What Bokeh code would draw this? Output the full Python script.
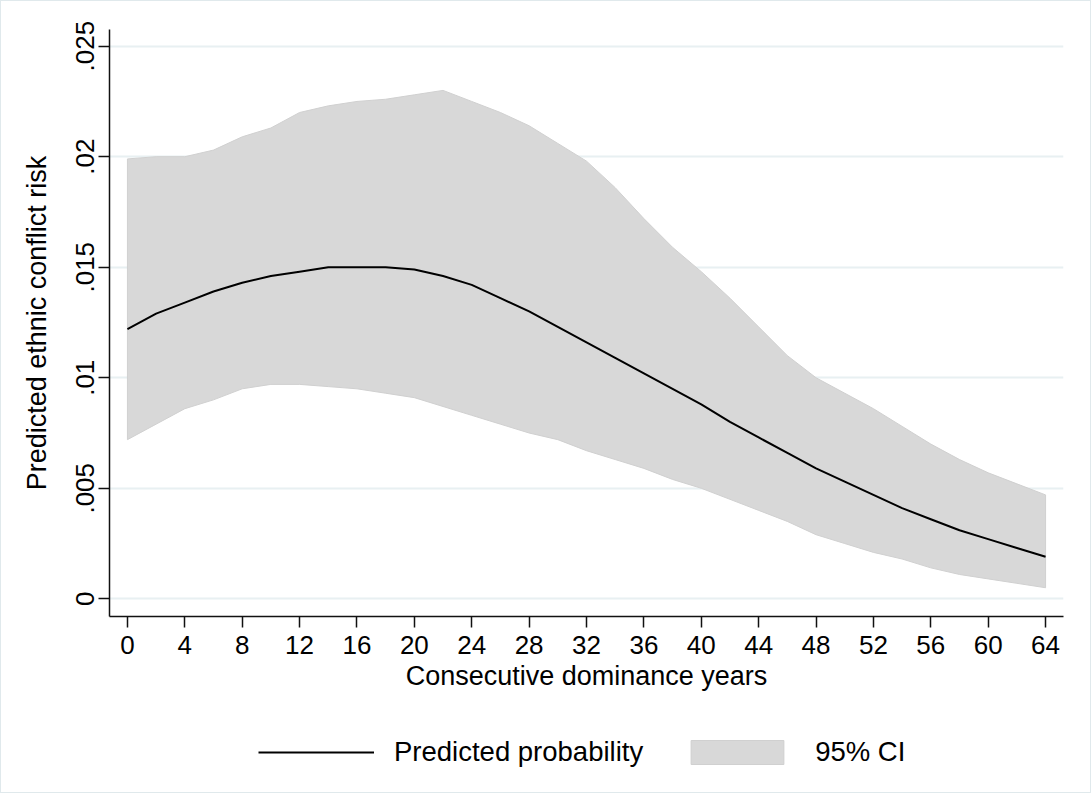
from bokeh.plotting import figure
from bokeh.models import Range1d, FixedTicker, Legend, LegendItem
from bokeh.layouts import column
from bokeh.embed import file_html
from bokeh.resources import INLINE

# ---- data ----
years = [0, 2, 4, 6, 8, 10, 12, 14, 16, 18, 20, 22, 24, 26, 28, 30, 32,
         34, 36, 38, 40, 42, 44, 46, 48, 50, 52, 54, 56, 58, 60, 62, 64]
predicted = [.0122, .0129, .0134, .0139, .0143, .0146, .0148, .0150, .0150, .0150,
             .0149, .0146, .0142, .0136, .0130, .0123, .0116, .0109, .0102, .0095,
             .0088, .0080, .0073, .0066, .0059, .0053, .0047, .0041, .0036, .0031,
             .0027, .0023, .0019]
ci_upper = [.0199, .0200, .0200, .0203, .0209, .0213, .0220, .0223, .0225, .0226,
            .0228, .0230, .0225, .0220, .0214, .0206, .0198, .0186, .0172, .0159,
            .0148, .0136, .0123, .0110, .0100, .0093, .0086, .0078, .0070, .0063,
            .0057, .0052, .0047]
ci_lower = [.0072, .0079, .0086, .0090, .0095, .0097, .0097, .0096, .0095, .0093,
            .0091, .0087, .0083, .0079, .0075, .0072, .0067, .0063, .0059, .0054,
            .0050, .0045, .0040, .0035, .0029, .0025, .0021, .0018, .0014, .0011,
            .0009, .0007, .0005]
x_ticks = list(range(0, 65, 4))
y_ticks = [0, .005, .01, .015, .02, .025]
y_tick_labels = ["0", ".005", ".01", ".015", ".02", ".025"]
x_title = "Consecutive dominance years"
y_title = "Predicted ethnic conflict risk"
legend_labels = ["Predicted probability", "95% CI"]

FONT = "Liberation Sans"
BAND_FILL = "#d8d8d8"
BAND_LINE = "#d0d0d0"

band_x = years + years[::-1]
band_y = ci_upper + ci_lower[::-1]

INSET = 4  # outer light frame: 1px border + 3px padding

p = figure(width=1091 - 2 * INSET, height=713 - INSET, output_backend="svg",
           toolbar_location=None,
           x_range=Range1d(-1.25, 65.25), y_range=Range1d(-0.000801, 0.025755),
           min_border_left=109 - INSET, min_border_right=28 - INSET,
           min_border_top=29 - INSET, min_border_bottom=97)
p.outline_line_color = None
p.background_fill_color = "white"
p.border_fill_color = "white"

p.patch(band_x, band_y, fill_color=BAND_FILL, line_color=BAND_LINE, line_width=1)
p.line(years, predicted, line_color="black", line_width=2)

# axes
p.xaxis.ticker = FixedTicker(ticks=x_ticks)
p.yaxis.ticker = FixedTicker(ticks=y_ticks)
p.yaxis.major_label_overrides = {t: l for t, l in zip(y_ticks, y_tick_labels)}
p.yaxis.major_label_orientation = "vertical"
for ax in (p.xaxis[0], p.yaxis[0]):
    ax.axis_line_color = "#111111"
    ax.axis_line_width = 1.5
    ax.major_tick_line_color = "#111111"
    ax.major_tick_line_width = 1.5
    ax.major_tick_out = 11
    ax.major_tick_in = 0
    ax.minor_tick_out = 0
    ax.minor_tick_in = 0
    ax.major_label_text_font = FONT
    ax.major_label_text_font_size = "26px"
    ax.major_label_text_color = "black"
    ax.axis_label_text_font = FONT
    ax.axis_label_text_font_size = "27px"
    ax.axis_label_text_font_style = "normal"
    ax.axis_label_text_color = "black"
p.xaxis.axis_label = x_title
p.yaxis.axis_label = y_title
p.xaxis.major_label_standoff = 8
p.xaxis.axis_label_standoff = 4
p.yaxis.major_label_standoff = 4
p.yaxis.axis_label_standoff = 22

p.xgrid.grid_line_color = None
p.ygrid.ticker = FixedTicker(ticks=y_ticks)
p.ygrid.grid_line_color = "#e8f0f2"
p.ygrid.grid_line_width = 2

# legend strip below the plot: same series, ranges chosen so they stay out of view
lg = figure(width=1091 - 2 * INSET, height=80 - INSET, output_backend="svg",
            toolbar_location=None,
            x_range=Range1d(1000, 1001), y_range=Range1d(1000, 1001),
            min_border_left=0, min_border_right=0, min_border_top=0, min_border_bottom=0)
lg.axis.visible = False
lg.grid.visible = False
lg.outline_line_color = None
lg.border_fill_color = "white"
lg.background_fill_color = "white"
leg_band = lg.patch(band_x, band_y, fill_color=BAND_FILL, line_color=BAND_LINE, line_width=1)
leg_line = lg.line(years, predicted, line_color="black", line_width=2)
legend = Legend(items=[LegendItem(label=legend_labels[0], renderers=[leg_line]),
                       LegendItem(label=legend_labels[1], renderers=[leg_band])],
                orientation="horizontal", location=(153 - INSET, 21),
                label_text_font=FONT, label_text_font_size="27.5px",
                label_text_color="black",
                glyph_width=116, glyph_height=30, label_standoff=20, spacing=36,
                border_line_color=None, background_fill_alpha=0,
                margin=0, padding=4)
lg.add_layout(legend, "center")

layout = column(p, lg, spacing=0)
layout.styles = {"border": "1px solid #e0e9ec", "padding": "3px",
                 "background-color": "white", "box-sizing": "content-box"}

open("out.html", "w").write(file_html(layout, INLINE))
